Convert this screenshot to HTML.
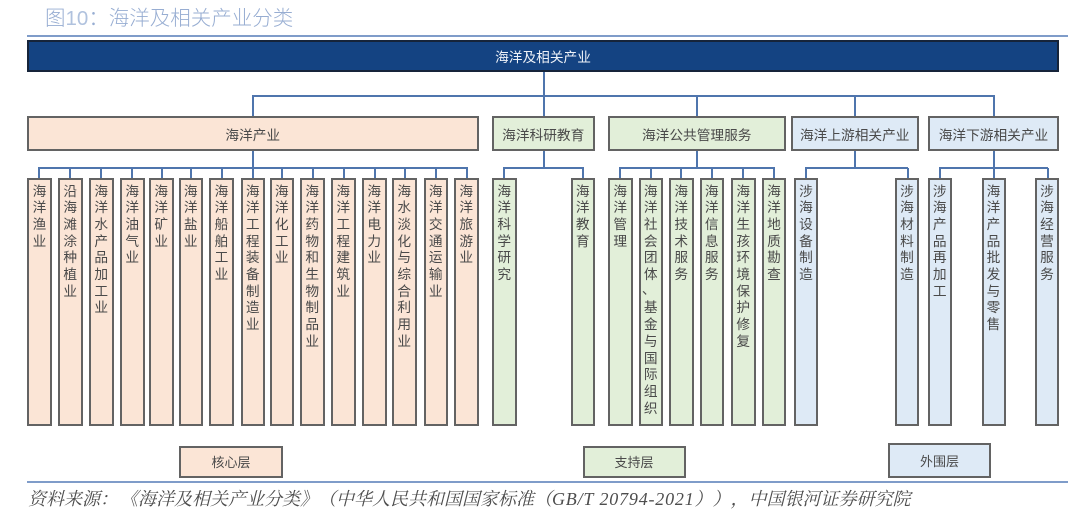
<!DOCTYPE html>
<html lang="zh">
<head>
<meta charset="utf-8">
<style>
html,body{margin:0;padding:0;background:#fff}
#p{position:relative;width:1080px;height:526px;overflow:hidden;background:#fff;font-family:"Liberation Sans","Noto Sans CJK SC",sans-serif;filter:blur(.35px)}
.b{position:absolute;box-sizing:border-box;border:2px solid #636363;color:#4a4a4a;font-size:13.7px;text-align:center;display:flex;align-items:center;justify-content:center;white-space:nowrap}
.v{position:absolute;box-sizing:border-box;border:2px solid #636363;top:178px;height:248px;color:#4a4a4a;font-size:13.7px;line-height:16.7px;padding-top:3.5px;text-align:center}
.v span{display:block;width:14px;margin:0 auto;word-break:break-all;white-space:normal}
.v i{display:block;font-style:normal;position:relative;left:-2px;top:-2px}
.o{background:#fbe5d6}.g{background:#e2efd9}.u{background:#deeaf6}
.l{position:absolute;background:#4f75ad}
.r{position:absolute;background:#7f9cc9;height:2px}
.t{position:absolute;white-space:nowrap}
</style>
</head>
<body>
<div id="p">
<div class="t" style="left:45px;top:5px;font-size:20.5px;line-height:28px;color:#97add2;font-weight:300">图<span style="color:#b0c2de">10</span>&#xFF1A;海洋及相关产业分类</div>
<div class="r" style="left:27px;top:35px;width:1041px"></div>
<div class="r" style="left:27px;top:481px;width:1041px"></div>

<!-- connectors level 1 -->
<div class="l" style="left:252px;top:94.5px;width:743px;height:2px"></div>
<div class="l" style="left:543px;top:72px;width:2px;height:44px"></div>
<div class="l" style="left:252px;top:95px;width:2px;height:21px"></div>
<div class="l" style="left:696px;top:95px;width:2px;height:21px"></div>
<div class="l" style="left:854px;top:95px;width:2px;height:21px"></div>
<div class="l" style="left:993px;top:95px;width:2px;height:21px"></div>
<!-- horizontal level 2 -->
<div class="l" style="left:38px;top:167px;width:430px;height:2px"></div>
<div class="l" style="left:503px;top:167px;width:81px;height:2px"></div>
<div class="l" style="left:619px;top:167px;width:156px;height:2px"></div>
<div class="l" style="left:805px;top:167px;width:103px;height:2px"></div>
<div class="l" style="left:939px;top:167px;width:109px;height:2px"></div>
<!-- stems -->
<div class="l" style="left:252px;top:151px;width:2px;height:27px"></div>
<div class="l" style="left:543px;top:151px;width:2px;height:17px"></div>
<div class="l" style="left:696px;top:151px;width:2px;height:17px"></div>
<div class="l" style="left:854px;top:151px;width:2px;height:17px"></div>
<div class="l" style="left:993px;top:151px;width:2px;height:27px"></div>
<!-- drops -->
<div class="l" style="left:38px;top:168px;width:2px;height:10px"></div>
<div class="l" style="left:69px;top:168px;width:2px;height:10px"></div>
<div class="l" style="left:100px;top:168px;width:2px;height:10px"></div>
<div class="l" style="left:131px;top:168px;width:2px;height:10px"></div>
<div class="l" style="left:160.5px;top:168px;width:2px;height:10px"></div>
<div class="l" style="left:190px;top:168px;width:2px;height:10px"></div>
<div class="l" style="left:221px;top:168px;width:2px;height:10px"></div>
<div class="l" style="left:281px;top:168px;width:2px;height:10px"></div>
<div class="l" style="left:311.5px;top:168px;width:2px;height:10px"></div>
<div class="l" style="left:342.5px;top:168px;width:2px;height:10px"></div>
<div class="l" style="left:373.5px;top:168px;width:2px;height:10px"></div>
<div class="l" style="left:403.5px;top:168px;width:2px;height:10px"></div>
<div class="l" style="left:434.5px;top:168px;width:2px;height:10px"></div>
<div class="l" style="left:466px;top:168px;width:2px;height:10px"></div>
<div class="l" style="left:503px;top:168px;width:2px;height:10px"></div>
<div class="l" style="left:582px;top:168px;width:2px;height:10px"></div>
<div class="l" style="left:619px;top:168px;width:2px;height:10px"></div>
<div class="l" style="left:650px;top:168px;width:2px;height:10px"></div>
<div class="l" style="left:680px;top:168px;width:2px;height:10px"></div>
<div class="l" style="left:711px;top:168px;width:2px;height:10px"></div>
<div class="l" style="left:742px;top:168px;width:2px;height:10px"></div>
<div class="l" style="left:773px;top:168px;width:2px;height:10px"></div>
<div class="l" style="left:805px;top:168px;width:2px;height:10px"></div>
<div class="l" style="left:906.5px;top:168px;width:2px;height:10px"></div>
<div class="l" style="left:939px;top:168px;width:2px;height:10px"></div>
<div class="l" style="left:1046.5px;top:168px;width:2px;height:10px"></div>

<!-- top bar -->
<div class="b" style="left:27px;top:40px;width:1032px;height:32px;background:#144382;border-color:#16243a;color:#eef2f8">海洋及相关产业</div>

<!-- level 2 -->
<div class="b o" style="left:27px;top:116px;width:451.5px;height:35px">海洋产业</div>
<div class="b g" style="left:492px;top:116px;width:102.5px;height:35px">海洋科研教育</div>
<div class="b g" style="left:608px;top:116px;width:177.5px;height:35px">海洋公共管理服务</div>
<div class="b u" style="left:790.5px;top:116px;width:128.5px;height:35px">海洋上游相关产业</div>
<div class="b u" style="left:928px;top:116px;width:131px;height:35px">海洋下游相关产业</div>

<!-- level 3 orange -->
<div class="v o" style="left:27px;width:25px"><span>海洋渔业</span></div>
<div class="v o" style="left:58px;width:24.5px"><span>沿海滩涂种植业</span></div>
<div class="v o" style="left:89px;width:24.5px"><span>海洋水产品加工业</span></div>
<div class="v o" style="left:120px;width:24.5px"><span>海洋油气业</span></div>
<div class="v o" style="left:149px;width:24.5px"><span>海洋矿业</span></div>
<div class="v o" style="left:178.5px;width:24.5px"><span>海洋盐业</span></div>
<div class="v o" style="left:209px;width:25px"><span>海洋船舶工业</span></div>
<div class="v o" style="left:240.5px;width:24.5px"><span>海洋工程装备制造业</span></div>
<div class="v o" style="left:269.5px;width:24.5px"><span>海洋化工业</span></div>
<div class="v o" style="left:300px;width:24.5px"><span>海洋药物和生物制品业</span></div>
<div class="v o" style="left:331px;width:24.5px"><span>海洋工程建筑业</span></div>
<div class="v o" style="left:362px;width:24.5px"><span>海洋电力业</span></div>
<div class="v o" style="left:392px;width:24.5px"><span>海水淡化与综合利用业</span></div>
<div class="v o" style="left:423.5px;width:24.5px"><span>海洋交通运输业</span></div>
<div class="v o" style="left:454px;width:24.5px"><span>海洋旅游业</span></div>

<!-- level 3 green -->
<div class="v g" style="left:492px;width:24.5px"><span>海洋科学研究</span></div>
<div class="v g" style="left:570.5px;width:24.5px"><span>海洋教育</span></div>
<div class="v g" style="left:608px;width:24.5px"><span>海洋管理</span></div>
<div class="v g" style="left:638.5px;width:24.5px"><span>海洋社会团体<i>、</i>基金与国际组织</span></div>
<div class="v g" style="left:669px;width:24.5px"><span>海洋技术服务</span></div>
<div class="v g" style="left:699.5px;width:24.5px"><span>海洋信息服务</span></div>
<div class="v g" style="left:731px;width:24.5px"><span>海洋生孩环境保护修复</span></div>
<div class="v g" style="left:762px;width:24px"><span>海洋地质勘查</span></div>

<!-- level 3 blue -->
<div class="v u" style="left:794px;width:24px"><span>涉海设备制造</span></div>
<div class="v u" style="left:895px;width:24px"><span>涉海材料制造</span></div>
<div class="v u" style="left:928px;width:23.5px"><span>涉海产品再加工</span></div>
<div class="v u" style="left:981.5px;width:24px"><span>海洋产品批发与零售</span></div>
<div class="v u" style="left:1035px;width:24px"><span>涉海经营服务</span></div>

<!-- legend -->
<div class="b o" style="left:179px;top:446px;width:104px;height:31.5px;font-size:13px">核心层</div>
<div class="b g" style="left:582.5px;top:446px;width:103px;height:31.5px;font-size:13px">支持层</div>
<div class="b u" style="left:888px;top:443px;width:103px;height:34.5px;font-size:13px">外围层</div>

<div class="t" style="left:28px;top:486px;font-size:18px;line-height:26px;color:#4d4d4d;font-style:italic;font-family:'Liberation Serif','Noto Serif CJK SC',serif;text-spacing-trim:space-all;font-kerning:none">资料来源&#xFF1A;<span style="margin-left:2px">《</span>海洋及相关产业分类》&#xFF08;中华人民共和国国家标准&#xFF08;<span style="letter-spacing:.8px">GB/T 20794-2021</span>&#xFF09;&#xFF09;&#xFF0C;中国银河证券研究院</div>
</div>
</body>
</html>
